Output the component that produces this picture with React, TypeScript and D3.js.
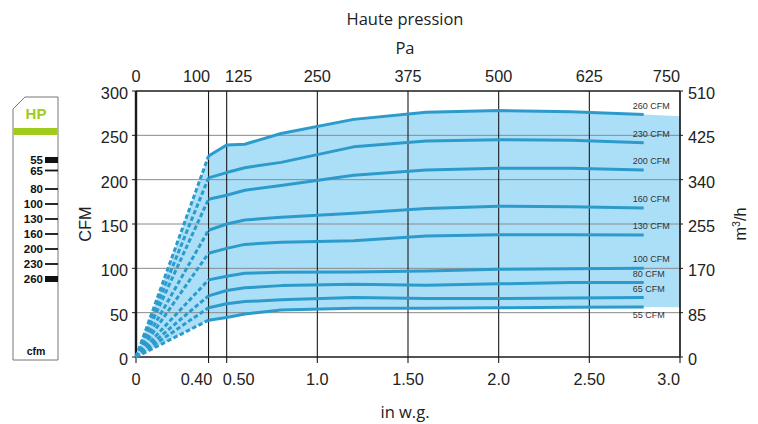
import React from "react";
import * as d3 from "d3";

// ---------- data ----------
const xBreaks = [0.4, 0.5, 0.6, 0.8, 1.2, 1.6, 2.0, 2.4, 2.8];
const seriesNames = ["260 CFM", "230 CFM", "200 CFM", "160 CFM", "130 CFM", "100 CFM", "80 CFM", "65 CFM", "55 CFM"];
const s260 = [226.7, 239, 240, 252, 268, 276, 278, 276.5, 273.5];
const s230 = [202, 208, 213.5, 219.5, 237, 243.5, 245, 244.5, 241.5];
const s200 = [178, 182.5, 188, 193.5, 205, 211, 213, 213, 211];
const s160 = [143, 150, 154.5, 157.5, 162, 167.5, 170, 169.5, 168];
const s130 = [117, 122.5, 127, 129.5, 131, 136.5, 138, 138, 137.5];
const s100 = [87, 91, 94.5, 95.5, 96, 97, 99, 99.5, 100];
const s80 = [69, 75, 78, 80.5, 82, 81, 82.5, 84, 84];
const s65 = [55.5, 60, 62.5, 64.5, 67, 66, 66, 66.5, 67];
const s55 = [41.5, 44.5, 48.5, 53, 55, 55, 55.5, 56, 56.5];
const seriesValues = [s260, s230, s200, s160, s130, s100, s80, s65, s55];
// fill-only tail of the operating zone at the right edge
const fillTailX = 3.0;
const fillTailTop = 271.5;
const fillTailBottom = 56;

const bottomTicks = [0, 0.4, 0.5, 1.0, 1.5, 2.0, 2.5, 3.0];
const bottomTickLabels = ["0", "0.40", "0.50", "1.0", "1.50", "2.0", "2.50", "3.0"];
const topTicks = [0, 100, 125, 250, 375, 500, 625, 750];
const cfmTicks = [0, 50, 100, 150, 200, 250, 300];
const m3hTicks = [0, 85, 170, 255, 340, 425, 510];
const legendLabels = ["55", "65", "80", "100", "130", "160", "200", "230", "260"];
const legendBold = ["55", "260"];

// ---------- layout ----------
const W = 758, H = 424;
const L = 136, R = 680, T = 91, B = 357;
const FONT = "'Liberation Sans', Arial, Helvetica, sans-serif";
const TITLE_FONT = "'Open Sans', 'Liberation Sans', sans-serif";
const NARROW = "'Liberation Sans Narrow', 'Liberation Sans', Arial, sans-serif";
const LINE = "#2c9bcc";
const FILL = "#abdff8";
const GREEN = "#9fcc1c";

export default function App() {
  const x = d3.scaleLinear().domain([0, 3]).range([L, R]);
  const xPa = d3.scaleLinear().domain([0, 750]).range([L, R]);
  const y = d3.scaleLinear().domain([0, 300]).range([B, T]);
  const yM3 = d3.scaleLinear().domain([0, 510]).range([B, T]);
  const legendY = d3.scaleLinear().domain([0, 1, 2, 8]).range([160, 170.5, 189, 279]);

  const top = [0, ...s260, fillTailTop];
  const bot = [0, ...s55, fillTailBottom];
  const xs = [0, ...xBreaks, fillTailX];
  const area = d3
    .area<number>()
    .x((_, i) => x(xs[i]))
    .y0((_, i) => y(bot[i]))
    .y1((_, i) => y(top[i]));
  const line = d3
    .line<number>()
    .x((_, i) => x(xBreaks[i]))
    .y((d) => y(d));

  const labelOffset = (i: number) => {
    if (i === 1) return -12;
    if (i === 2) return 12;
    return 0;
  };
  const labelAnchor = (i: number, n: number) => (i === n - 1 ? "end" : "middle");

  return (
    <svg width={W} height={H} style={{ position: "absolute", left: 0, top: 0, background: "#fff" }}>
      {/* legend gauge */}
      <g fontFamily={NARROW} fontWeight="bold">
        <path d="M25,97 L58,97 L58,360 L13,360 L13,109 Z" fill="#fff" stroke="#777" strokeWidth={1} />
        <rect x={13.5} y={128} width={44} height={7} fill={GREEN} />
        <text x={36} y={119} textAnchor="middle" fontSize={15} fill={GREEN}>HP</text>
        {legendLabels.map((lab, i) => {
          const yy = legendY(i);
          const bold = legendBold.includes(lab);
          return (
            <g key={lab}>
              <text x={43} y={yy} dy="0.35em" textAnchor="end" fontSize={11.5} fill="#111">{lab}</text>
              {bold ? (
                <rect x={45} y={yy - 3} width={13} height={6} fill="#111" />
              ) : (
                <line x1={45} x2={58} y1={yy} y2={yy} stroke="#111" strokeWidth={1.8} />
              )}
            </g>
          );
        })}
        <text x={36} y={355} textAnchor="middle" fontSize={10.5} fill="#111">cfm</text>
      </g>

      {/* operating zone fill */}
      <path d={area(xs) || ""} fill={FILL} />

      {/* grid */}
      {cfmTicks.slice(1, -1).map((t) => (
        <line key={"h" + t} x1={L} x2={R} y1={y(t)} y2={y(t)} stroke="#8a8a8a" strokeWidth={1} />
      ))}
      {bottomTicks.map((t) => (
        <line key={"v" + t} x1={x(t)} x2={x(t)} y1={T} y2={B + 6} stroke="#1a1a1a" strokeWidth={1.1} />
      ))}
      {cfmTicks.map((t) => (
        <line key={"lt" + t} x1={L - 4} x2={L} y1={y(t)} y2={y(t)} stroke="#1a1a1a" strokeWidth={1} />
      ))}
      {m3hTicks.map((t) => (
        <line key={"rt" + t} x1={R} x2={R + 3} y1={yM3(t)} y2={yM3(t)} stroke="#1a1a1a" strokeWidth={1} />
      ))}
      <line x1={L} x2={R} y1={T} y2={T} stroke="#1a1a1a" strokeWidth={1.3} />
      <line x1={L} x2={R} y1={B} y2={B} stroke="#1a1a1a" strokeWidth={1.3} />
      <line x1={R} x2={R} y1={T} y2={B} stroke="#1a1a1a" strokeWidth={1.3} />
      <line x1={L} x2={L} y1={T} y2={B} stroke="#1a1a1a" strokeWidth={2.4} />

      {/* curves */}
      {seriesValues.map((vals, k) => (
        <g key={seriesNames[k]}>
          <line
            x1={x(0)}
            y1={y(0)}
            x2={x(xBreaks[0])}
            y2={y(vals[0])}
            stroke={LINE}
            strokeWidth={3}
            strokeDasharray="4.5 2.5"
          />
          <path d={line(vals) || ""} fill="none" stroke={LINE} strokeWidth={3} strokeLinejoin="round" />
        </g>
      ))}

      {/* series labels */}
      <g fontFamily={FONT} fontSize={9} fill="#333">
        {seriesValues.map((vals, k) => {
          const last = vals[vals.length - 1];
          const below = k === seriesValues.length - 1;
          return (
            <text key={"lab" + k} x={x(xBreaks[xBreaks.length - 1]) - 11} y={y(last) + (below ? 8 : -9)} dy="0.35em">
              {seriesNames[k]}
            </text>
          );
        })}
      </g>

      {/* titles */}
      <g fontFamily={TITLE_FONT} fontSize={16.5} fill="#222">
        <text x={405} y={25} textAnchor="middle">Haute pression</text>
        <text x={405} y={54} textAnchor="middle">Pa</text>
        <text x={405} y={418} textAnchor="middle">in w.g.</text>
      </g>

      {/* axes labels */}
      <g fontFamily={FONT} fontSize={16.3} fill="#222">
        {topTicks.map((t, i) => (
          <text key={"tp" + t} x={xPa(t) + labelOffset(i)} y={82} textAnchor={labelAnchor(i, topTicks.length)}>
            {t}
          </text>
        ))}
        {bottomTicks.map((t, i) => (
          <text key={"bt" + t} x={x(t) + labelOffset(i)} y={385} textAnchor={labelAnchor(i, bottomTicks.length)}>
            {bottomTickLabels[i]}
          </text>
        ))}
        {cfmTicks.map((t) => (
          <text key={"lc" + t} x={128} y={y(t)} dy="0.5em" textAnchor="end">{t}</text>
        ))}
        {m3hTicks.map((t) => (
          <text key={"rm" + t} x={688} y={yM3(t)} dy="0.5em" textAnchor="start">{t}</text>
        ))}
        <text transform={`translate(${91},${(T + B) / 2}) rotate(-90)`} textAnchor="middle">CFM</text>
        <text transform={`translate(${746},${(T + B) / 2}) rotate(-90)`} textAnchor="middle">
          m<tspan fontSize={10.5} dy={-6}>3</tspan>
          <tspan dy={6}>/h</tspan>
        </text>
      </g>
    </svg>
  );
}
